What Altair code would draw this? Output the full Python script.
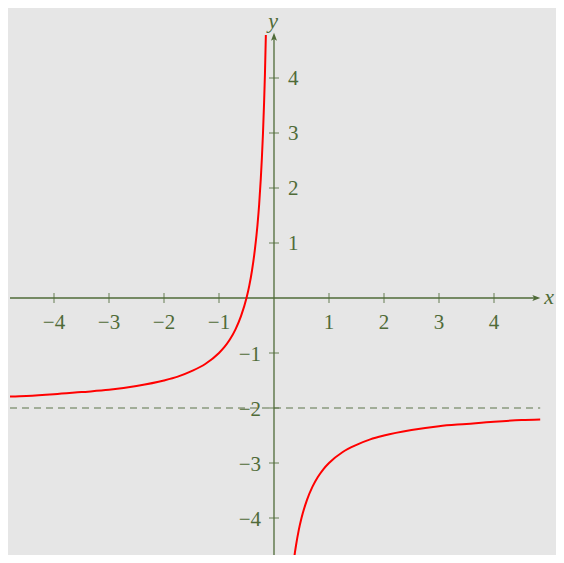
import altair as alt
import pandas as pd

# ---- data ----
left_x = [-4.80, -4.50, -4.00, -3.50, -3.00, -2.50, -2.00, -1.75, -1.50, -1.25, -1.00,
          -0.90, -0.80, -0.70, -0.60, -0.50, -0.45, -0.40, -0.35, -0.30, -0.27, -0.24,
          -0.22, -0.20, -0.18, -0.165, -0.148]
left_y = [-1.79, -1.78, -1.75, -1.71, -1.67, -1.60, -1.50, -1.43, -1.33, -1.20, -1.00,
          -0.89, -0.75, -0.57, -0.33, 0.00, 0.22, 0.50, 0.86, 1.33, 1.70, 2.17,
          2.55, 3.00, 3.56, 4.06, 4.78]
right_x = [0.34, 0.36, 0.38, 0.40, 0.45, 0.50, 0.60, 0.70, 0.80, 0.90, 1.00, 1.25, 1.50,
           1.75, 2.00, 2.50, 3.00, 3.50, 4.00, 4.50, 4.84]
right_y = [-4.94, -4.78, -4.63, -4.50, -4.22, -4.00, -3.67, -3.43, -3.25, -3.11, -3.00,
           -2.80, -2.67, -2.57, -2.50, -2.40, -2.33, -2.29, -2.25, -2.22, -2.21]

asymptote_y = -2
x_ticks = [-4, -3, -2, -1, 1, 2, 3, 4]
x_tick_labels = ["−4", "−3", "−2", "−1", "1", "2", "3", "4"]
y_ticks_pos = [1, 2, 3, 4]
y_tick_labels_pos = ["1", "2", "3", "4"]
y_ticks_neg = [-1, -2, -3, -4]
y_tick_labels_neg = ["−1", "−2", "−3", "−4"]

x_axis_range = [-4.80, 4.84]
y_axis_range = [-4.90, 4.82]

# ---- styling ----
AX = "#4f6b38"
DASH = "#8a9a7f"
BG = "#e6e6e6"
FONT = "Liberation Serif"

W, H = 548, 547
X0, Y0, U = 266, 290, 55.0
xdom = [-X0 / U, (W - X0) / U]
ydom = [-(H - Y0) / U, Y0 / U]

xs = alt.Scale(domain=xdom, nice=False, zero=False)
ys = alt.Scale(domain=ydom, nice=False, zero=False)


def enc(ch, **kw):
    return ch.encode(x=alt.X("x:Q", scale=xs, axis=None), y=alt.Y("y:Q", scale=ys, axis=None), **kw)


curve = pd.DataFrame(
    {"x": left_x + right_x, "y": left_y + right_y,
     "branch": ["L"] * len(left_x) + ["R"] * len(right_x)}
)
curve_layer = enc(alt.Chart(curve).mark_line(
    color="#ff0000", strokeWidth=2, interpolate="monotone", clip=True
), detail="branch:N", order="x:Q")

dash_df = pd.DataFrame({"x": [x_axis_range[0]], "x2": [x_axis_range[1]], "y": [asymptote_y]})
dash_layer = enc(alt.Chart(dash_df).mark_rule(color=DASH, strokeWidth=1.3, strokeDash=[7, 5]), x2="x2:Q")

xaxis_df = pd.DataFrame({"x": [x_axis_range[0]], "x2": [x_axis_range[1] - 0.05], "y": [0]})
xaxis_layer = enc(alt.Chart(xaxis_df).mark_rule(color=AX, strokeWidth=1.3), x2="x2:Q")
yaxis_df = pd.DataFrame({"x": [0], "y": [y_axis_range[0]], "y2": [y_axis_range[1] - 0.05]})
yaxis_layer = enc(alt.Chart(yaxis_df).mark_rule(color=AX, strokeWidth=1.3, clip=True), y2="y2:Q")

arrow_right = "M1,0 L-1,-0.75 L-0.55,0 L-1,0.75 Z"
arrow_up = "M0,-1 L-0.75,1 L0,0.55 L0.75,1 Z"
ax_arrow_df = pd.DataFrame({"x": [x_axis_range[1] - 0.07], "y": [0]})
ay_arrow_df = pd.DataFrame({"x": [0], "y": [y_axis_range[1] - 0.07]})
xarrow = enc(alt.Chart(ax_arrow_df).mark_point(shape=arrow_right, filled=True, color=AX, opacity=1, size=64))
yarrow = enc(alt.Chart(ay_arrow_df).mark_point(shape=arrow_up, filled=True, color=AX, opacity=1, size=64))

xt_df = pd.DataFrame({"x": x_ticks, "y": [0] * len(x_ticks), "label": x_tick_labels})
xticks_layer = enc(alt.Chart(xt_df).mark_tick(orient="vertical", size=10, thickness=1.2, color=AX))
xlabels_layer = enc(alt.Chart(xt_df).mark_text(
    font=FONT, fontSize=21, color=AX, dy=25, baseline="middle", align="center"
), text="label:N")

yall = y_ticks_pos + y_ticks_neg
yt_df = pd.DataFrame({"x": [0] * len(yall), "y": yall})
yticks_layer = enc(alt.Chart(yt_df).mark_tick(orient="horizontal", size=10, thickness=1.2, color=AX))
yp_df = pd.DataFrame({"x": [0] * 4, "y": y_ticks_pos, "label": y_tick_labels_pos})
yplabels = enc(alt.Chart(yp_df).mark_text(
    font=FONT, fontSize=21, color=AX, dx=14, dy=1, baseline="middle", align="left"
), text="label:N")
yn_df = pd.DataFrame({"x": [0] * 4, "y": y_ticks_neg, "label": y_tick_labels_neg})
ynlabels = enc(alt.Chart(yn_df).mark_text(
    font=FONT, fontSize=21, color=AX, dx=-13, dy=2, baseline="middle", align="right"
), text="label:N")

names_df = pd.DataFrame({"x": [x_axis_range[1], 0], "y": [0, y_axis_range[1]], "label": ["x", "y"]})
xname = enc(alt.Chart(names_df.iloc[[0]]).mark_text(
    font=FONT, fontSize=22, fontStyle="italic", color=AX, dx=4, dy=-1, baseline="middle", align="left"
), text="label:N")
yname = enc(alt.Chart(names_df.iloc[[1]]).mark_text(
    font=FONT, fontSize=22, fontStyle="italic", color=AX, dx=-1, dy=-12, baseline="middle", align="center"
), text="label:N")

chart = alt.layer(
    dash_layer, xaxis_layer, yaxis_layer, xticks_layer, yticks_layer, xarrow, yarrow,
    xlabels_layer, yplabels, ynlabels, xname, yname, curve_layer
).properties(
    width=W, height=H, background=BG, padding=0, autosize=alt.AutoSizeParams(type="none")
).configure_view(stroke=None, fill=BG)

chart.save("out.html", embed_options={"renderer": "svg", "actions": False})
